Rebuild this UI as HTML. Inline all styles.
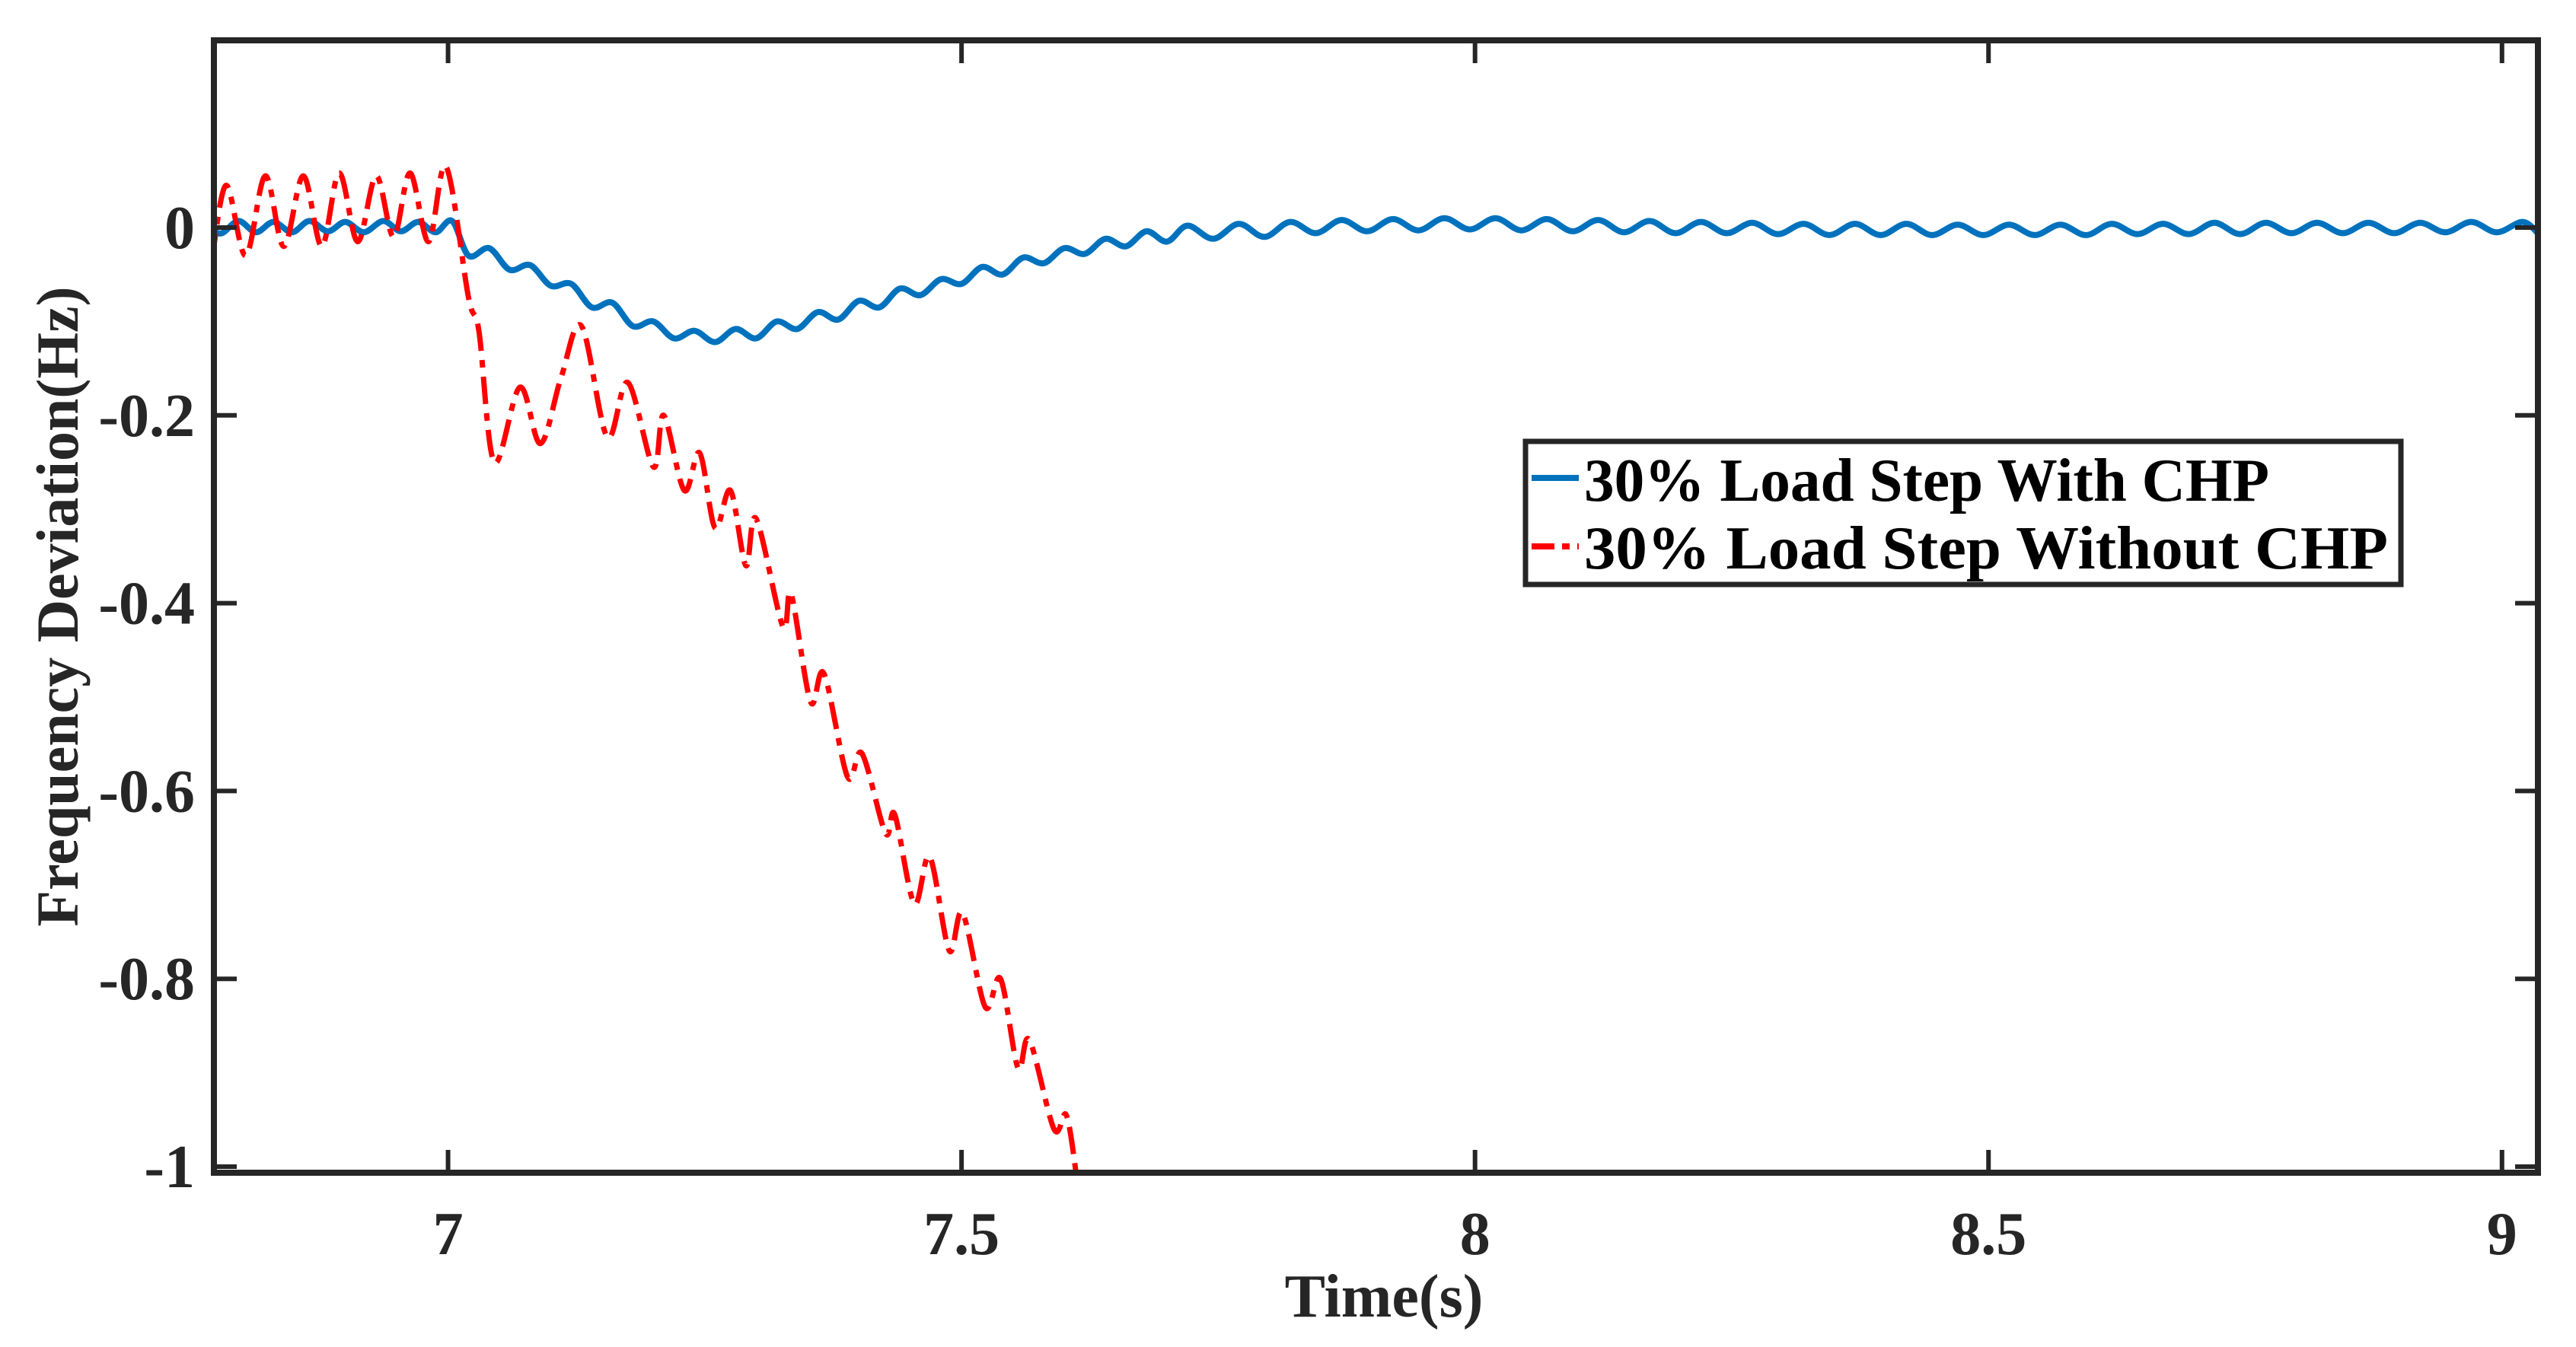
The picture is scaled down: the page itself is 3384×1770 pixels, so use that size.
<!DOCTYPE html>
<html><head><meta charset="utf-8"><style>
html,body{margin:0;padding:0;background:#fff;}
svg{display:block;font-family:"Liberation Serif",serif;font-weight:bold;}
</style></head><body>
<svg id="chart" width="3384" height="1770" viewBox="0 0 3384 1770" xmlns="http://www.w3.org/2000/svg">
<rect width="3384" height="1770" fill="#fff"/>
<g id="plot"></g>
<g id="axes"></g>
<text x="1818" y="1730" font-size="80" text-anchor="middle" fill="#262626">Time(s)</text>
<text transform="translate(102,797) rotate(-90)" font-size="78" text-anchor="middle" fill="#262626">Frequency Deviation(Hz)</text>
<g>
<rect x="2004" y="580" width="1150" height="188" fill="#fff" stroke="#262626" stroke-width="7"/>
<line x1="2012" y1="628" x2="2074" y2="628" stroke="#0072BD" stroke-width="8"/>
<text x="2081" y="658" font-size="80" fill="#000" textLength="900" lengthAdjust="spacingAndGlyphs">30% Load Step With CHP</text>
<line x1="2012" y1="718" x2="2074" y2="718" stroke="#ff0000" stroke-width="8" stroke-dasharray="30,10,10,10"/>
<text x="2081" y="747" font-size="80" fill="#000" textLength="1056" lengthAdjust="spacingAndGlyphs">30% Load Step Without CHP</text>
</g>
</svg>
<script>
const xTicks=[7,7.5,8,8.5,9];
const xTickLabels=["7","7.5","8","8.5","9"];
const yTicks=[0,-0.2,-0.4,-0.6,-0.8,-1];
const yTickLabels=["0","-0.2","-0.4","-0.6","-0.8","-1"];
const blueT=[6.770,6.780,6.796,6.813,6.830,6.848,6.865,6.883,6.900,6.918,6.937,6.954,6.971,6.988,7.004,7.02,7.04,7.06,7.08,7.10,7.12,7.14,7.16,7.18,7.20,7.22,7.24,7.26,7.28,7.30,7.32,7.34,7.36,7.38,7.40,7.42,7.44,7.46,7.48,7.50,7.52,7.54,7.56,7.58,7.60,7.62,7.64,7.66,7.68,7.70,7.72,7.745,7.77,7.795,7.82,7.845,7.87,7.895,7.92,7.945,7.97,7.995,8.02,8.045,8.07,8.095,8.12,8.145,8.17,8.195,8.22,8.245,8.27,8.295,8.32,8.345,8.37,8.395,8.42,8.445,8.47,8.495,8.52,8.545,8.57,8.595,8.62,8.645,8.67,8.695,8.72,8.745,8.77,8.795,8.82,8.845,8.87,8.895,8.92,8.945,8.97,8.995,9.02,9.035];
const blueV=[-0.003,-0.006,0.007,-0.005,0.006,-0.005,0.007,-0.004,0.006,-0.005,0.007,-0.004,0.006,-0.005,0.007,-0.03,-0.022,-0.045,-0.04,-0.062,-0.06,-0.085,-0.08,-0.105,-0.10,-0.118,-0.11,-0.122,-0.108,-0.118,-0.10,-0.108,-0.09,-0.098,-0.078,-0.085,-0.065,-0.072,-0.055,-0.06,-0.042,-0.05,-0.032,-0.038,-0.022,-0.028,-0.012,-0.02,-0.004,-0.015,0.002,-0.012,0.004,-0.01,0.006,-0.006,0.008,-0.004,0.009,-0.003,0.01,-0.002,0.01,-0.003,0.009,-0.004,0.008,-0.005,0.007,-0.006,0.006,-0.006,0.005,-0.007,0.004,-0.008,0.004,-0.008,0.004,-0.008,0.003,-0.008,0.003,-0.008,0.003,-0.008,0.004,-0.007,0.004,-0.007,0.005,-0.007,0.005,-0.006,0.005,-0.006,0.005,-0.006,0.005,-0.005,0.006,-0.005,0.006,-0.006];
const redT=[6.770,6.784,6.803,6.822,6.840,6.859,6.877,6.894,6.912,6.930,6.947,6.963,6.981,6.998,7.02,7.03,7.045,7.07,7.09,7.11,7.13,7.155,7.175,7.2,7.21,7.23,7.245,7.26,7.275,7.29,7.30,7.326,7.334,7.353,7.366,7.389,7.403,7.426,7.435,7.454,7.469,7.488,7.501,7.523,7.538,7.555,7.566,7.590,7.602,7.612];
const redV=[-0.035,0.045,-0.03,0.055,-0.02,0.055,-0.02,0.058,-0.015,0.055,-0.01,0.058,-0.015,0.065,-0.075,-0.11,-0.25,-0.17,-0.23,-0.16,-0.105,-0.223,-0.165,-0.255,-0.2,-0.28,-0.24,-0.32,-0.28,-0.36,-0.31,-0.425,-0.39,-0.505,-0.475,-0.585,-0.56,-0.645,-0.625,-0.72,-0.67,-0.77,-0.73,-0.83,-0.80,-0.895,-0.865,-0.96,-0.945,-1.01];

const L=281,R=3334,T=53,B=1541,xMin=6.772,xMax=9.035;
const xs=t=>L+(t-xMin)/(xMax-xMin)*(R-L);
const ys=v=>299-v*1234;
const NS="http://www.w3.org/2000/svg";
function mk(tag,attrs,parent){const e=document.createElementNS(NS,tag);for(const k in attrs)e.setAttribute(k,attrs[k]);parent.appendChild(e);return e;}
function smooth(T_,V_){
  const p=T_.map((t,i)=>[xs(t),ys(V_[i])]);
  let d="M"+p[0][0].toFixed(1)+","+p[0][1].toFixed(1);
  for(let i=0;i<p.length-1;i++){
    const p0=p[Math.max(0,i-1)],p1=p[i],p2=p[i+1],p3=p[Math.min(p.length-1,i+2)];
    const c1=[p1[0]+(p2[0]-p0[0])/6,p1[1]+(p2[1]-p0[1])/6];
    const c2=[p2[0]-(p3[0]-p1[0])/6,p2[1]-(p3[1]-p1[1])/6];
    d+="C"+c1[0].toFixed(1)+","+c1[1].toFixed(1)+" "+c2[0].toFixed(1)+","+c2[1].toFixed(1)+" "+p2[0].toFixed(1)+","+p2[1].toFixed(1);
  }
  return d;
}
const plot=document.getElementById('plot');
const axes=document.getElementById('axes');
mk('clipPath',{id:'clip'},plot).appendChild(document.createElementNS(NS,'rect'));
const cr=plot.querySelector('clipPath rect');cr.setAttribute('x',L);cr.setAttribute('y',T);cr.setAttribute('width',R-L);cr.setAttribute('height',B-T);
const blue=mk('path',{d:smooth(blueT,blueV),fill:'none',stroke:'#0072BD','stroke-width':8,'clip-path':'url(#clip)'},plot);


const red=mk('path',{d:smooth(redT,redV),fill:'none',stroke:'#ff0000','stroke-width':7,'stroke-dasharray':'36,12,10,12','clip-path':'url(#clip)'},plot);


const frame=mk('rect',{x:L,y:T,width:R-L,height:B-T,fill:'none',stroke:'#262626','stroke-width':8},axes);


xTicks.forEach((t,i)=>{
  const x=xs(t);
  mk('line',{x1:x,y1:B,x2:x,y2:B-30,stroke:'#262626','stroke-width':6},axes);
  mk('line',{x1:x,y1:T,x2:x,y2:T+30,stroke:'#262626','stroke-width':6},axes);
  const tx=mk('text',{x:x,y:1648,'font-size':80,'text-anchor':'middle',fill:'#262626'},axes);
  tx.textContent=xTickLabels[i];
  
  
});
yTicks.forEach((v,i)=>{
  const y=ys(v);
  mk('line',{x1:L,y1:y,x2:L+30,y2:y,stroke:'#262626','stroke-width':6},axes);
  mk('line',{x1:R,y1:y,x2:R-30,y2:y,stroke:'#262626','stroke-width':6},axes);
  const tx=mk('text',{x:256,y:y+27,'font-size':80,'text-anchor':'end',fill:'#262626'},axes);
  tx.textContent=yTickLabels[i];
  
  
});
</script>
</body></html>
